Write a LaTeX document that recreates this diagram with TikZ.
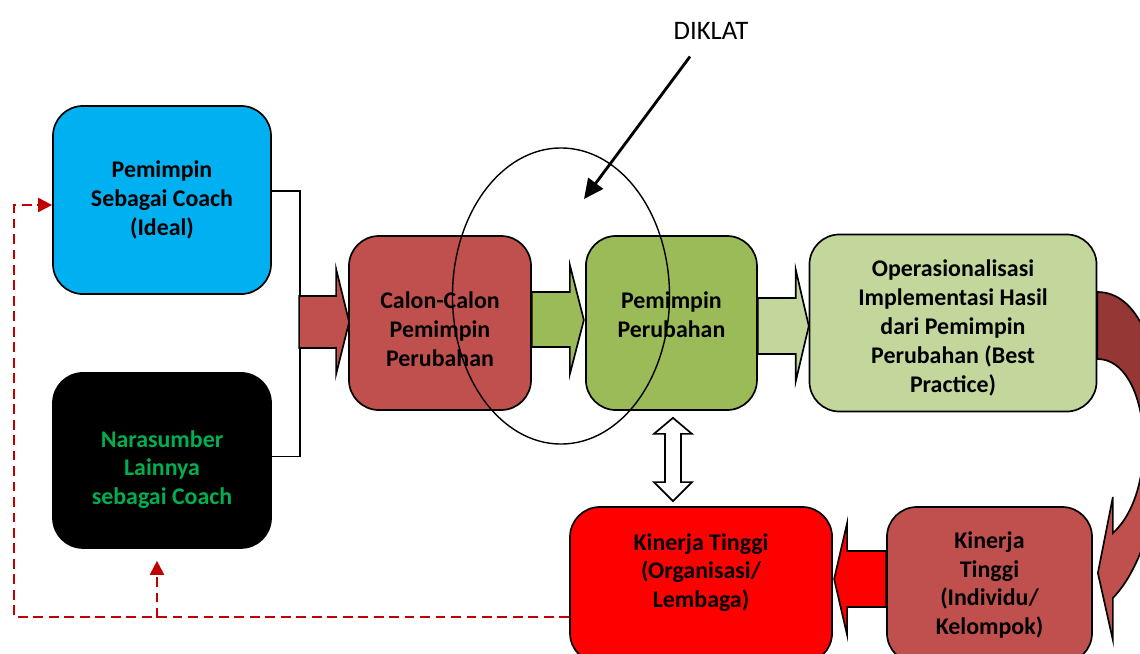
\documentclass[tikz,border=0pt]{standalone}
\usepackage{fontspec}
\setmainfont{Carlito}
\usetikzlibrary{positioning,calc,shapes.geometric,arrows.meta}
\pgfdeclarelayer{bg}
\pgfsetlayers{bg,main}
\definecolor{coachblue}{HTML}{00B0F0}
\definecolor{calonred}{HTML}{C0504D}
\definecolor{ubahgreen}{HTML}{9BBB59}
\definecolor{oprgreen}{HTML}{C3D69B}
\definecolor{benddark}{HTML}{953735}
\definecolor{naragreen}{HTML}{00B050}
\definecolor{dashred}{HTML}{C00000}
\tikzset{
	>=Triangle
}

\begin{document}
\begin{tikzpicture}[
x = 0.025cm, y = -0.025cm,
every node/.style = {
	font = \bfseries\fontsize{17}{20.5}\selectfont
},
box/.style = {
	draw,
	line width = 1.2pt,
	rounded corners = 0.75cm,
	align = center,
	inner sep = 2pt
},
fat/.style = {
	draw,
	line width = 1.2pt,
	line join = miter
},
feedback/.style = {
	draw = dashred,
	line width = 1.4pt,
	dash pattern = on 7pt off 4pt,
	-{Triangle[length=10pt, width=10pt, fill=dashred]}
}
]
\useasboundingbox (0,0) rectangle (1140,653);
\clip (0,0) rectangle (1140,653);

\node[box, fill=coachblue, minimum width=5.45cm, minimum height=4.7cm]	(coach)	at (162,200)	{Pemimpin\\Sebagai Coach\\(Ideal)};
\node[box, fill=black, text=naragreen, minimum width=5.45cm, minimum height=4.375cm, below=1.93cm of coach]	(nara)	{\rule{0pt}{24.8pt}Narasumber\\Lainnya\\sebagai Coach};

\node[box, fill=calonred, minimum width=4.55cm, minimum height=4.35cm]	(calon)	at (440,323)	{\rule{0pt}{20.5pt}Calon-Calon\\Pemimpin\\Perubahan};
\node[box, fill=ubahgreen, minimum width=4.275cm, minimum height=4.35cm, right=1.33cm of calon]	(ubah)	{Pemimpin\\Perubahan\rule[-11.4pt]{0pt}{0pt}};
\node[box, fill=oprgreen, minimum width=7.175cm, minimum height=4.425cm, right=1.27cm of ubah]	(opr)	{\rule{0pt}{19pt}Operasionalisasi\\Implementasi Hasil\\dari Pemimpin\\Perubahan (Best\\Practice)};

\node[box, fill=calonred, minimum width=5.125cm, minimum height=3.9cm]	(indiv)	at (989.5,585)	{Kinerja\\Tinggi\\(Individu/\\Kelompok)};
\node[box, fill=red, minimum width=6.55cm, minimum height=3.9cm, left=1.33cm of indiv]	(org)	{Kinerja Tinggi\\(Organisasi/\\Lembaga)\\ \mbox{}};

% bracket joining the two coaches
\draw[line width=1pt] ($(coach.east)+(0,-9)$) -- ++(28,0) |- ($(nara.east)+(0,-4)$);

% fat arrows along the row
\draw[fat, fill=calonred] ($(calon.west)+(-49,-27)$) -- ++(37,0) -- ++(0,-27) -- ($(calon.west)+(1,-1)$) -- ($(calon.west)+(-12,51)$) -- ++(0,-26) -- ++(-37,0) -- cycle;
\draw[fat, fill=ubahgreen] ($(calon.east)+(0,-31)$) -- ++(38,0) -- ++(0,-27) -- ($(calon.east)+(52,-3)$) -- ($(calon.east)+(38,51)$) -- ++(0,-27) -- ++(-38,0) -- cycle;
\draw[fat, fill=oprgreen] ($(ubah.east)+(0,-25)$) -- ++(38,0) -- ++(0,-28) -- ($(ubah.east)+(51,3)$) -- ($(ubah.east)+(38,58)$) -- ++(0,-27) -- ++(-38,0) -- cycle;
\draw[fat, fill=red] ($(indiv.west)+(0,-34)$) -- ++(-39,0) -- ++(0,-28) -- ($(indiv.west)+(-52,-6)$) -- ($(indiv.west)+(-39,50)$) -- ++(0,-28) -- ++(39,0) -- cycle;

% bent arrow from opr down to indiv
\def\bend{($(opr.east)+(0,-31)$) .. controls +(83,0) and +(68,-70) .. ($(indiv.east)+(20,13)$) -- ++(0,42) -- ($(indiv.east)+(5,-12)$) -- ($(indiv.east)+(20,-88)$) -- ++(0,36) .. controls +(48,-43) and +(53,0) .. ($(opr.east)+(0,36)$) -- cycle}
\begin{pgfonlayer}{bg}
	\fill[calonred] \bend;
	\begin{scope}
		\clip (1090,250) rectangle (1140,410);
		\fill[benddark] \bend;
	\end{scope}
	\draw[fat] \bend;
\end{pgfonlayer}

% two-way arrow
\coordinate (dtop) at ($(ubah.south)+(1.5,7)$);
\coordinate (dbot) at ($(org.north -| dtop)+(0,-5)$);
\draw[fat, fill=white] (dtop) -- ($(dtop)+(19,16)$) -- ($(dtop)+(8,16)$) -- ($(dbot)+(8,-19)$) -- ($(dbot)+(19,-19)$) -- (dbot) -- ($(dbot)+(-19,-19)$) -- ($(dbot)+(-8,-19)$) -- ($(dtop)+(-8,16)$) -- ($(dtop)+(-19,16)$) -- cycle;

% DIKLAT ring
\node[draw, ellipse, line width=1pt, minimum width=5.425cm, minimum height=7.4cm]	(ring)	at (561,296)	{};
\node[font=\fontsize{19}{22}\selectfont]	(diklat)	at (711,31)	{DIKLAT};
\coordinate (diklattip) at (584,199);
\draw[line width=2pt, -{Triangle[length=14pt, width=13pt]}] ($(diklat.south)+(-21,12)$) -- (diklattip);

% feedback
\draw[feedback] ($(org.west)+(0,32)$) -- ++(-555,0) |- ($(coach.west)+(0,5)$);
\draw[feedback] ($(nara.south)+(-5,69)$) -- ($(nara.south)+(-5,12)$);
\end{tikzpicture}
\end{document}
